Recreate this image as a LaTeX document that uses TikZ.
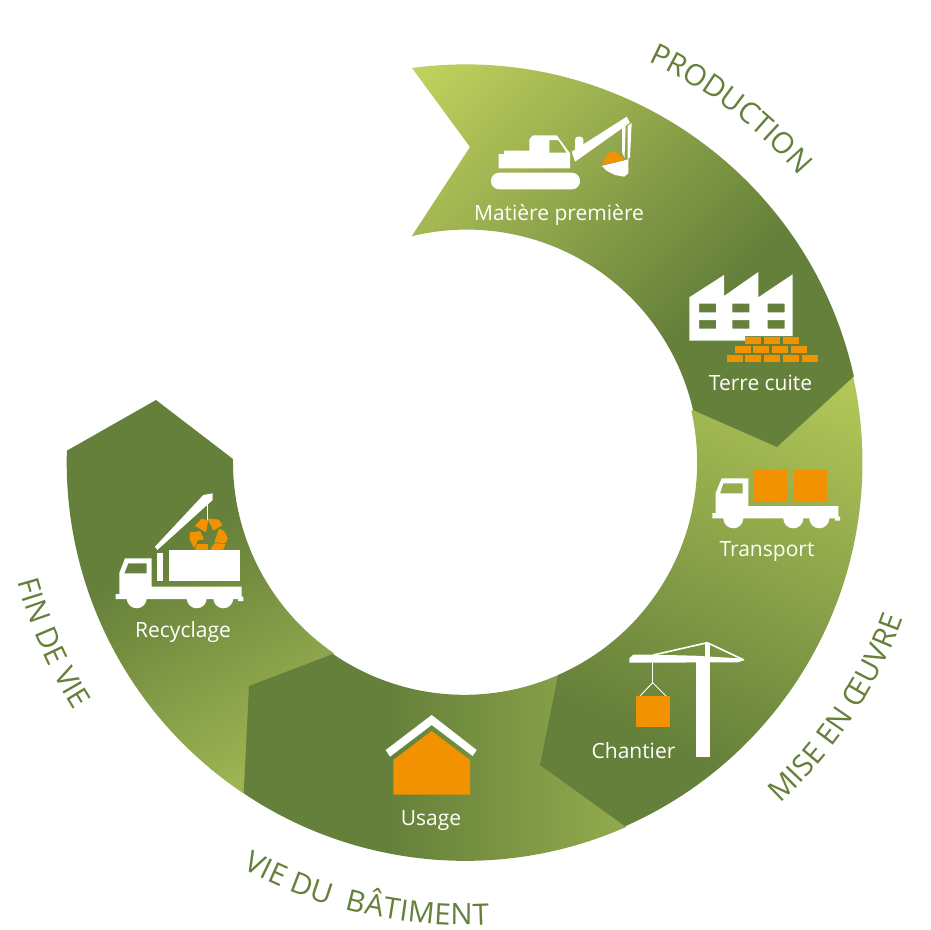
\documentclass[tikz,border=0pt]{standalone}
\usepackage{fontspec}
\setmainfont{Open Sans}
\usetikzlibrary{decorations.text}
\definecolor{paleleaf}{HTML}{C6D660}
\definecolor{softleaf}{HTML}{B7CB5A}
\definecolor{midleaf}{HTML}{93AB4D}
\definecolor{endleaf}{HTML}{9DB452}
\definecolor{darkleaf}{HTML}{65803A}
\definecolor{brick}{HTML}{F39200}
\pgfdeclarehorizontalshading{prodshade}{100bp}{color(0bp)=(paleleaf); color(15bp)=(paleleaf); color(61bp)=(darkleaf); color(100bp)=(darkleaf)}
\pgfdeclarehorizontalshading{miseshade}{100bp}{color(0bp)=(softleaf); color(17bp)=(softleaf); color(68bp)=(darkleaf); color(100bp)=(darkleaf)}
\pgfdeclarehorizontalshading{vieshade}{100bp}{color(0bp)=(darkleaf); color(44bp)=(darkleaf); color(75bp)=(midleaf); color(100bp)=(midleaf)}
\pgfdeclarehorizontalshading{finshade}{100bp}{color(0bp)=(darkleaf); color(42bp)=(darkleaf); color(76bp)=(endleaf); color(100bp)=(endleaf)}
\newcommand{\stagefont}{\fontsize{29.5}{30}\selectfont}
\begin{document}
\begin{tikzpicture}[x=1pt,y=1pt,yscale=-1]
  \tikzset{steplabel/.style = {text=white,anchor=base,font=\fontsize{21}{24}\selectfont}}
  \tikzset{icon/.style = {fill=white,even odd rule}}
  \tikzset{ink/.style = {fill=brick}}
  \tikzset{stagetext/.style = {decorate,decoration={text along path,text color=darkleaf,text align={fit to path}}}}
  \useasboundingbox (0,0) rectangle (930,930);

  % ring
  \shade[shading=finshade,shading angle=-60] (243,793) arc[start angle=123.85,end angle=181.7,radius=398pt]
    -- (156,400) -- (233,459) arc[start angle=180.7,end angle=124.5,radius=232pt] -- (330,690) -- (280,720) -- (270,790) -- cycle;
  \shade[shading=vieshade,shading angle=0] (626,827) arc[start angle=66.2,end angle=123.85,radius=398pt]
    -- (249,686) -- (333,654) arc[start angle=124.5,end angle=66.4,radius=232pt] -- (590,680) -- (600,780) -- cycle;
  \shade[shading=miseshade,shading angle=-115] (853,376) arc[start angle=347.5,end angle=426.2,radius=398pt]
    -- (540,765) -- (558,675) arc[start angle=66.4,end angle=-12.85,radius=232pt] -- (720,395) -- (800,380) -- cycle;
  \shade[shading=prodshade,shading angle=-45] (412,68) arc[start angle=262.3,end angle=347.5,radius=398pt]
    -- (777,447) -- (693,410) arc[start angle=347.15,end angle=256.26,radius=232pt] -- (470,147) -- cycle;

  % excavator
  \fill[white,rounded corners=8pt] (491,172.7) rectangle (580,189.3);
  \fill[icon] (498.7,168.3) -- (498.7,154) -- (504,154) -- (504,150.7) -- (529.3,150.7) -- (529.3,139.3) -- (533,135.3)
    -- (556.7,135.3) -- (570,153.3) -- (570,168.3) -- cycle
    (549.3,140) -- (558.3,140) -- (566.7,152.7) -- (549.3,152.7) -- cycle;
  \fill[white] (571.7,151.7) -- (626.7,116.7) -- (630,122.7) -- (575,161.7) -- cycle;
  \fill[white,rounded corners=3pt] (575,136.7) rectangle (583.3,152);
  \fill[white] (622,128) -- (625.7,126) -- (624.5,158) -- (622,152) -- cycle;
  \fill[white] (627.7,126) -- (631.7,123) -- (630,157) -- (627.7,160) -- cycle;
  \fill[white] (601.7,166) -- (628.3,159.3) -- (628.3,173.3) -- (624.3,176.7) -- (615,175) -- (606.7,170.7) -- cycle;
  \fill[ink] (601.7,165) -- (606.7,155) -- (613.3,150.7) -- (620,155) -- (625,160) -- cycle;

  % factory and bricks
  \fill[icon] (689.3,340.7) -- (689.3,297.3) -- (724,275) -- (724,296) -- (758.3,272) -- (758.3,297.3) -- (792.7,274.3)
    -- (792.7,336) -- (745,336) -- (745,340.7) -- cycle
    \foreach \winx in {699,732.3,767.7} { \foreach \winy in {303.7,320} {
      (\winx,\winy) rectangle ++(17,8.7) } };
  \foreach \brx in {745.3,764,783} { \fill[ink] (\brx,337) rectangle ++(16,6.7); }
  \foreach \brx in {734.7,753.3,772,791} { \fill[ink] (\brx,346) rectangle ++(16,7.3); }
  \foreach \brx in {726.7,745.3,764,783,801.7} { \fill[ink] (\brx,355) rectangle ++(16,7.3); }

  % delivery truck
  \fill[ink] (754.3,469.7) rectangle (787.3,501);
  \fill[ink] (793.7,469.7) rectangle (826.7,501);
  \fill[icon] (715.7,513) -- (715.7,493) -- (721.7,478.3) -- (748.3,478.3) -- (748.3,506) -- (838.3,506) -- (838.3,516.7)
    -- (840,516.7) -- (840,520.7) -- (835,520.7) -- (835,518.3) -- (712.3,518.3) -- (712.3,513) -- cycle
    (723.3,483.3) -- (742.7,483.3) -- (742.7,493.3) -- (720,493.3) -- cycle;
  \foreach \whx in {733.3,793.3,819.3} { \fill[white] (\whx,518.3) circle (10); }

  % crane
  \fill[ink] (636.3,696) rectangle (669.7,727.3);
  \fill[white] (696,662) rectangle (710,756.7);
  \fill[white] (705,642.7) rectangle (710,663);
  \fill[white] (629.3,662.7) -- (629.3,658.3) -- (633.3,654.7) -- (655,654.7) -- (695,655.7) -- (738,658.3) -- (744,660)
    -- (738,662.3) -- cycle;
  \draw[white,line width=1.6pt] (653.3,655) -- (707.3,642.7) -- (744,660);
  \draw[white,line width=1pt] (640,696) -- (652.7,682.7) -- (666,696);
  \draw[white,line width=1pt] (652.7,662) -- (652.7,682.7);

  % house
  \fill[white] (385.7,750) -- (431.7,715) -- (476.7,750) -- (472.7,756) -- (431.7,725) -- (390,756.7) -- cycle;
  \fill[ink] (393.3,760) -- (431.7,731) -- (470,760) -- (470,794.7) -- (393.3,794.7) -- cycle;

  % recycling truck
  \fill[white] (155,546.7) -- (157.3,550) -- (212.7,500) -- (212.7,493.3) -- (203.3,495) -- cycle;
  \draw[white,line width=1.5pt] (207.7,498) -- (207.7,520);
  \begin{scope}[line join=round]
    \filldraw[ink,draw=brick,line width=1pt] (195.7,525.7) -- (201.7,519.3) -- (207.7,520.7) -- (205.7,531.7) -- cycle;
    \filldraw[ink,draw=brick,line width=1pt] (208.3,519.3) -- (218.3,520) -- (221.7,525) -- (213.3,530) -- (211.7,526) -- cycle;
    \filldraw[ink,draw=brick,line width=1pt] (219.3,529.3) -- (224,531.7) -- (227.3,538.3) -- (225,542.7) -- (215,541.7) -- cycle;
    \filldraw[ink,draw=brick,line width=1pt] (215,543.7) -- (225,544.3) -- (222.3,550) -- (211,550) -- (212.7,546.7) -- cycle;
    \filldraw[ink,draw=brick,line width=1pt] (197.3,544.5) -- (207.7,544.5) -- (207.7,550) -- (195.7,550) -- cycle;
    \filldraw[ink,draw=brick,line width=1pt] (190,532.7) -- (200,531.7) -- (203.3,539) -- (197.3,540) -- (194.3,547.3) -- (190,539) -- cycle;
  \end{scope}
  \fill[white] (169,550) rectangle (240,581.3);
  \fill[white] (157,553.3) rectangle (163,581.3);
  \fill[icon] (119.3,594) -- (119.3,573) -- (125,558.3) -- (151.7,558.3) -- (151.7,586.7) -- (241.7,586.7) -- (241.7,596.7)
    -- (243.3,596.7) -- (243.3,601) -- (238,601) -- (238,599) -- (115.7,599) -- (115.7,594) -- cycle
    (128.3,563.3) -- (146.7,563.3) -- (146.7,573.3) -- (124.3,573.3) -- cycle;
  \foreach \whx in {136.7,196.7,223.3} { \fill[white] (\whx,598.3) circle (10); }

  % labels
  \node[steplabel] (matiere) at (559,220.7) {Matière première};
  \node[steplabel] (terre) at (760.5,390) {Terre cuite};
  \node[steplabel] (transport) at (767,556.7) {Transport};
  \node[steplabel] (chantier) at (633.5,758.3) {Chantier};
  \node[steplabel] (usage) at (431,825) {Usage};
  \node[steplabel] (recyclage) at (183,637.3) {Recyclage};

  % stage names
  \begin{scope}[shift={(465,462)},yscale=-1]
    \path[stagetext,decoration={text={|\stagefont|PRODUCTION}}] (65.4:440) arc[start angle=65.4,end angle=41.2,radius=440pt];
    \path[stagetext,decoration={text={|\stagefont|MISE EN ŒUVRE}}] (-47.3:465) arc[start angle=-47.3,end angle=-19.6,radius=465pt];
    \path[stagetext,decoration={text={|\stagefont|VIE DU{\ }{\ }BÂTIMENT}}] (-118.7:463) arc[start angle=-118.7,end angle=-87,radius=463pt];
    \path[stagetext,decoration={text={|\stagefont|FIN DE VIE}}] (195:463) arc[start angle=195,end angle=212.5,radius=463pt];
  \end{scope}
\end{tikzpicture}
\end{document}
